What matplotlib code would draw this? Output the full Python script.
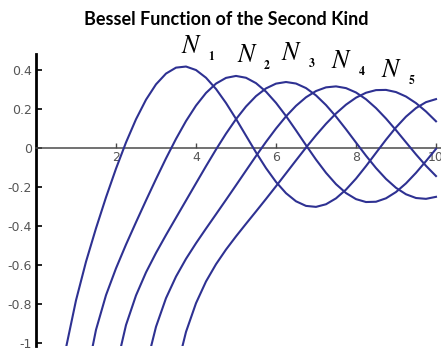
import matplotlib
matplotlib.use("Agg")
import matplotlib.pyplot as plt

plt.rcParams['axes.unicode_minus'] = False

# sample points along x and the N_1 .. N_5 curves read at those points
x_1 = [0.5, 0.75, 1.0, 1.25, 1.5, 1.75, 2.0, 2.25, 2.5, 2.75, 3.0, 3.25,
       3.5, 3.75, 4.0, 4.25, 4.5, 4.75, 5.0, 5.25, 5.5, 5.75, 6.0, 6.25,
       6.5, 6.75, 7.0, 7.25, 7.5, 7.75, 8.0, 8.25, 8.5, 8.75, 9.0, 9.25,
       9.5, 9.75, 10.0]
n_1 = [-1.4715, -1.0245, -0.7812, -0.5835, -0.4123, -0.2538, -0.1070,
       0.0272, 0.1459, 0.2460, 0.3247, 0.3798, 0.4102, 0.4158, 0.3979,
       0.3585, 0.3010, 0.2292, 0.1479, 0.0619, -0.0238, -0.1042, -0.1750,
       -0.2326, -0.2741, -0.2977, -0.3027, -0.2893, -0.2591, -0.2143,
       -0.1581, -0.0940, -0.0262, 0.0412, 0.1043, 0.1593, 0.2032, 0.2335,
       0.2490]

x_2 = x_1[2:]
n_2 = [-1.6507, -1.1858, -0.9321, -0.7547, -0.6174, -0.4957, -0.3814,
       -0.2697, -0.1604, -0.0545, 0.0454, 0.1366, 0.2159, 0.2806, 0.3285,
       0.3577, 0.3677, 0.3583, 0.3308, 0.2871, 0.2299, 0.1625, 0.0889,
       0.0131, -0.0606, -0.1283, -0.1864, -0.2320, -0.2630, -0.2779,
       -0.2764, -0.2588, -0.2267, -0.1823, -0.1284, -0.0684, -0.0059]

x_3 = x_1[6:]
n_3 = [-1.1278, -0.9077, -0.7561, -0.6381, -0.5385, -0.4468, -0.3583,
       -0.2701, -0.1820, -0.0944, -0.0090, 0.0721, 0.1463, 0.2112, 0.2644,
       0.3039, 0.3283, 0.3366, 0.3288, 0.3055, 0.2681, 0.2186, 0.1597,
       0.0946, 0.0266, -0.0407, -0.1039, -0.1596, -0.2051, -0.2382,
       -0.2573, -0.2616, -0.2513]

x_4 = x_1[8:]
n_4 = [-1.4332, -1.1216, -0.9166, -0.7701, -0.6596, -0.5687, -0.4889,
       -0.4139, -0.3405, -0.2667, -0.1921, -0.1170, -0.0424, 0.0300,
       0.0984, 0.1606, 0.2146, 0.2584, 0.2904, 0.3092, 0.3142, 0.3053,
       0.2830, 0.2483, 0.2031, 0.1494, 0.0900, 0.0278, -0.0341, -0.0926,
       -0.1449]

x_5 = x_1[12:]
n_5 = [-1.1494, -0.9428, -0.7958, -0.6846, -0.5963, -0.5212, -0.4537,
       -0.3894, -0.3261, -0.2621, -0.1971, -0.1310, -0.0647, 0.0008,
       0.0638, 0.1226, 0.1755, 0.2206, 0.2564, 0.2816, 0.2951, 0.2962,
       0.2851, 0.2622, 0.2286, 0.1856, 0.1354]

curves = [(x_1, n_1), (x_2, n_2), (x_3, n_3), (x_4, n_4), (x_5, n_5)]
names = ['1', '2', '3', '4', '5']

x_ticks = [2, 4, 6, 8, 10]
y_ticks = [0.4, 0.2, 0, -0.2, -0.4, -0.6, -0.8, -1]
y_tick_labels = ['0.4', '0.2', '0', '-0.2', '-0.4', '-0.6', '-0.8', '-1']

# where each N_n label sits (data coords, left/baseline of the N)
label_spots = [(3.65, 0.487), (5.03, 0.441), (6.15, 0.451),
               (7.4, 0.41), (8.65, 0.362)]

line_color = '#2e3192'

fig = plt.figure(figsize=(4.41, 3.49), dpi=100)
ax = fig.add_axes([36 / 441, 3 / 349, 405 / 441, 292 / 349])

for xs, ys in curves:
    ax.plot(xs, ys, color=line_color, lw=1.5, zorder=3)

ax.set_xlim(0, 10.125)
ax.set_ylim(-1.015, 0.48)

ax.spines['top'].set_visible(False)
ax.spines['right'].set_visible(False)
ax.spines['left'].set_linewidth(2.0)
ax.spines['left'].set_color('black')
ax.spines['bottom'].set_position(('data', 0))
ax.spines['bottom'].set_color('#4a4a4a')
ax.spines['bottom'].set_linewidth(1.1)

ax.set_xticks(x_ticks)
ax.set_xticklabels([str(t) for t in x_ticks])
ax.set_yticks(y_ticks)
ax.set_yticklabels(y_tick_labels)
ax.tick_params(axis='x', direction='in', length=3.5, width=1.0,
               color='#4a4a4a', pad=2, labelsize=9, labelcolor='#555555')
ax.tick_params(axis='y', direction='in', length=4, width=1.2,
               color='black', pad=3, labelsize=9, labelcolor='#555555')

for (lx, ly), name in zip(label_spots, names):
    ax.text(lx, ly, 'N', fontsize=18.5, family='STIXGeneral', style='italic',
            ha='left', va='baseline', clip_on=False)
    ax.text(lx + 0.66, ly - 0.036, name, fontsize=8.5, family='STIXGeneral',
            weight='bold', ha='left', va='baseline', clip_on=False)

fig.text(226 / 441, 1 - 25 / 349, 'Bessel Function of the Second Kind',
         ha='center', va='baseline', fontsize=13, family='Lato',
         weight='bold', color='black')

fig.savefig('out.png', dpi=100)
